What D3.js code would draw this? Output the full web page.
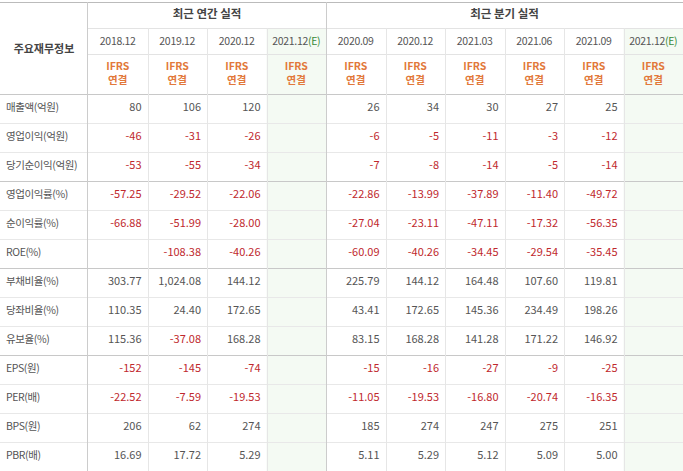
<!DOCTYPE html><html><head><meta charset="utf-8"><script src="https://cdn.jsdelivr.net/npm/d3@7"></script>
<style>body{margin:0;background:#fff}</style></head><body><svg id="c" width="683" height="471"></svg><script>
const periods=["2018.12","2019.12","2020.12","2021.12(E)","2020.09","2020.12","2021.03","2021.06","2021.09","2021.12(E)"];
const estimate=[false,false,false,true,false,false,false,false,false,true];
const rowLabels=["매출액(억원)","영업이익(억원)","당기순이익(억원)","영업이익률(%)","순이익률(%)","ROE(%)","부채비율(%)","당좌비율(%)","유보율(%)","EPS(원)","PER(배)","BPS(원)","PBR(배)"];
const values=[
["80","106","120","","26","34","30","27","25",""],
["-46","-31","-26","","-6","-5","-11","-3","-12",""],
["-53","-55","-34","","-7","-8","-14","-5","-14",""],
["-57.25","-29.52","-22.06","","-22.86","-13.99","-37.89","-11.40","-49.72",""],
["-66.88","-51.99","-28.00","","-27.04","-23.11","-47.11","-17.32","-56.35",""],
["","-108.38","-40.26","","-60.09","-40.26","-34.45","-29.54","-35.45",""],
["303.77","1,024.08","144.12","","225.79","144.12","164.48","107.60","119.81",""],
["110.35","24.40","172.65","","43.41","172.65","145.36","234.49","198.26",""],
["115.36","-37.08","168.28","","83.15","168.28","141.28","171.22","146.92",""],
["-152","-145","-74","","-15","-16","-27","-9","-25",""],
["-22.52","-7.59","-19.53","","-11.05","-19.53","-16.80","-20.74","-16.35",""],
["206","62","274","","185","274","247","275","251",""],
["16.69","17.72","5.29","","5.11","5.29","5.12","5.09","5.00",""]];
const groupBreaks=[3,6,9];
const svg=d3.select("#c");
const F="'Noto Sans CJK KR','Noto Sans',sans-serif";
const x=d3.scaleBand().domain(d3.range(10)).range([88,683]);
const y=d3.scaleBand().domain(d3.range(13)).range([94,471]);
estimate.forEach((e,i)=>{if(e)svg.append("rect").attr("x",x(i)).attr("y",28).attr("width",x.bandwidth()).attr("height",443).attr("fill","#f4faf3");});
const L=(x1,y1,x2,y2,c)=>svg.append("line").attr("x1",x1).attr("y1",y1).attr("x2",x2).attr("y2",y2).attr("stroke",c).attr("stroke-width",1).attr("shape-rendering","crispEdges");
L(0,2.5,683,2.5,"#bbb");
L(88,28.5,683,28.5,"#e3e3e3");
L(88,54.5,683,54.5,"#e3e3e3");
L(0,94.5,683,94.5,"#c8c8c8");
d3.range(1,13).forEach(r=>{const yy=Math.round(y(r))+.5;L(0,yy,683,yy,groupBreaks.includes(r)?"#c8c8c8":"#e8e8e8");});
L(87.5,2,87.5,471,"#ccc");
d3.range(1,10).forEach(i=>{const xx=Math.round(x(i))+.5;L(xx,i===4?2:28,xx,471,i===4?"#ccc":"#e6e6e6");});
const T=(t,xx,yy,opt={})=>svg.append("text").attr("x",xx).attr("y",yy).attr("text-anchor",opt.a||"middle").attr("dominant-baseline","middle").attr("font-family",F).attr("font-size",opt.s||11).attr("font-weight",opt.w||400).attr("fill",opt.c||"#555").attr("letter-spacing",opt.ls||0).text(t);
T("최근 연간 실적",(x(0)+x(3)+x.bandwidth())/2,15,{w:700,c:"#444",s:11.5});
T("최근 분기 실적",(x(4)+x(9)+x.bandwidth())/2,15,{w:700,c:"#444",s:11.5});
T("주요재무정보",44,50,{w:700,c:"#444",s:11});
periods.forEach((p,i)=>{
 const cx=x(i)+x.bandwidth()/2;
 const t=svg.append("text").attr("x",cx).attr("y",42).attr("text-anchor","middle").attr("dominant-baseline","middle").attr("font-family",F).attr("font-size",10.5).attr("fill","#555").attr("letter-spacing","-0.3");
 if(estimate[i]){t.append("tspan").text(p.replace("(E)",""));t.append("tspan").attr("fill","#3a8a3a").text("(E)");}else t.text(p);
 T("IFRS",cx,67,{w:700,c:"#e2783a",s:10.5});
 T("연결",cx,81.5,{w:700,c:"#e2783a",s:10.5});
});
rowLabels.forEach((l,r)=>T(l,6,y(r)+y.bandwidth()/2,{a:"start",s:10.5,c:"#555",ls:-0.4}));
values.forEach((row,r)=>row.forEach((v,i)=>{if(v!=="")T(v,x(i)+x.bandwidth()-6,y(r)+y.bandwidth()/2,{a:"end",s:11,c:v.startsWith("-")?"#c0282d":"#555"});}));
</script></body></html>
